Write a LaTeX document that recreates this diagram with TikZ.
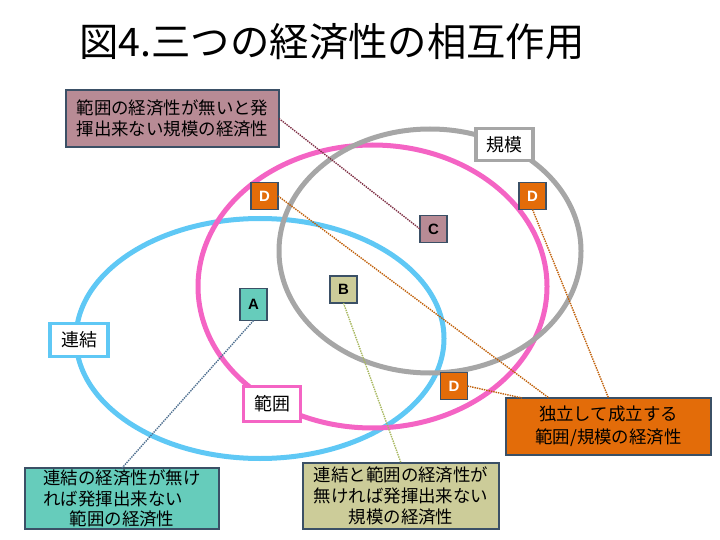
\documentclass[tikz,border=0pt]{standalone}
\usepackage{fontspec}
\setmainfont{Noto Sans CJK JP}
\newfontfamily\letfont{Liberation Sans}
\usetikzlibrary{calc}
\definecolor{slate}{RGB}{59,80,102}
\definecolor{orng}{RGB}{227,108,9}
\definecolor{blueE}{RGB}{95,200,245}
\definecolor{pinkE}{RGB}{244,100,196}
\definecolor{grayE}{RGB}{166,166,166}
\definecolor{tlfill}{RGB}{184,139,149}
\definecolor{tealfill}{RGB}{102,204,187}
\definecolor{yelfill}{RGB}{204,204,153}
\definecolor{maroonL}{RGB}{127,48,69}
\definecolor{orngL}{RGB}{192,96,10}
\definecolor{blueL}{RGB}{79,112,144}
\definecolor{yelL}{RGB}{168,184,96}
\begin{document}
\begin{tikzpicture}[x=1bp,y=-1bp,
  every node/.style={inner sep=0pt, outer sep=0pt},
  ell/.style={line width=5bp},
  lbl/.style={draw, line width=3.5bp, fill=white, font=\fontsize{18}{20}\selectfont},
  sq/.style={draw=slate, line width=1.8bp, minimum width=27bp, minimum height=27bp, font=\letfont\bfseries\fontsize{15}{15}\selectfont},
  call/.style={draw=slate, line width=1.8bp, font=\fontsize{17.5}{21}\selectfont},
  conn/.style={densely dotted, line width=1.4bp}
]
\useasboundingbox (0,0) rectangle (720,540);

\node (title) at (332,42) {\fontsize{39.5}{40}\selectfont 図4.三つの経済性の相互作用};

\draw[ell, blueE] (260,338.5) ellipse [x radius=184, y radius=120];
\draw[ell, pinkE] (372.5,286.5) ellipse [x radius=174.5, y radius=141.5];
\draw[ell, grayE] (430,251) ellipse [x radius=151, y radius=122];

\node[lbl, draw=blueE, minimum width=58bp, minimum height=33bp] (renketsu) at (79,340) {連結};
\node[lbl, draw=pinkE, minimum width=57bp, minimum height=35bp] (hani) at (272,404) {範囲};
\node[lbl, draw=grayE, minimum width=57bp, minimum height=32bp] (kibo) at (504.5,144.5) {規模};

\node[call, fill=tlfill, minimum width=213bp, minimum height=57bp, align=left] (tl) at (172.5,118.5) {範囲の経済性が無いと発\\揮出来ない規模の経済性};
\node[call, fill=tealfill, minimum width=194bp, minimum height=61bp, align=left, font=\fontsize{17.5}{20.5}\selectfont] (bl) at (122,498.5) {連結の経済性が無け\\れば発揮出来ない\\\hspace*{1.5em}範囲の経済性};
\node[call, fill=yelfill, minimum width=196bp, minimum height=66bp, align=center, font=\fontsize{17.5}{21}\selectfont] (bm) at (401,496) {連結と範囲の経済性が\\無ければ発揮出来ない\\規模の経済性};
\node[call, fill=orng, minimum width=205bp, minimum height=57bp, align=center, font=\fontsize{17.5}{23}\selectfont] (orb) at (608.5,426.5) {独立して成立する\\範囲/規模の経済性};

\node[sq, fill=orng, text=white] (D1) at (264.5,196) {D};
\node[sq, fill=orng, text=white] (D2) at (532.5,196) {D};
\node[sq, fill=orng, text=white] (D3) at (454,386) {D};
\node[sq, fill=tlfill] (C) at (433.5,229) {C};
\node[sq, fill=tealfill, minimum height=32bp] (A) at (253.5,304.5) {A};
\node[sq, fill=yelfill] (B) at (343.5,289.5) {B};

\coordinate (o1) at ($(orb.north west)+(43,0)$);
\coordinate (o3) at ($(orb.north west)+(16,0)$);
\draw[conn, maroonL] (tl.east) -- (C.west);
\draw[conn, orngL] (D1.east) -- (o1);
\draw[conn, orngL] (D2.south) -- (orb.north);
\draw[conn, orngL] (D3.east) -- (o3);
\draw[conn, blueL] (A.south) -- (bl.north);
\draw[conn, yelL] (B.south) -- (bm.north);
\end{tikzpicture}
\end{document}
